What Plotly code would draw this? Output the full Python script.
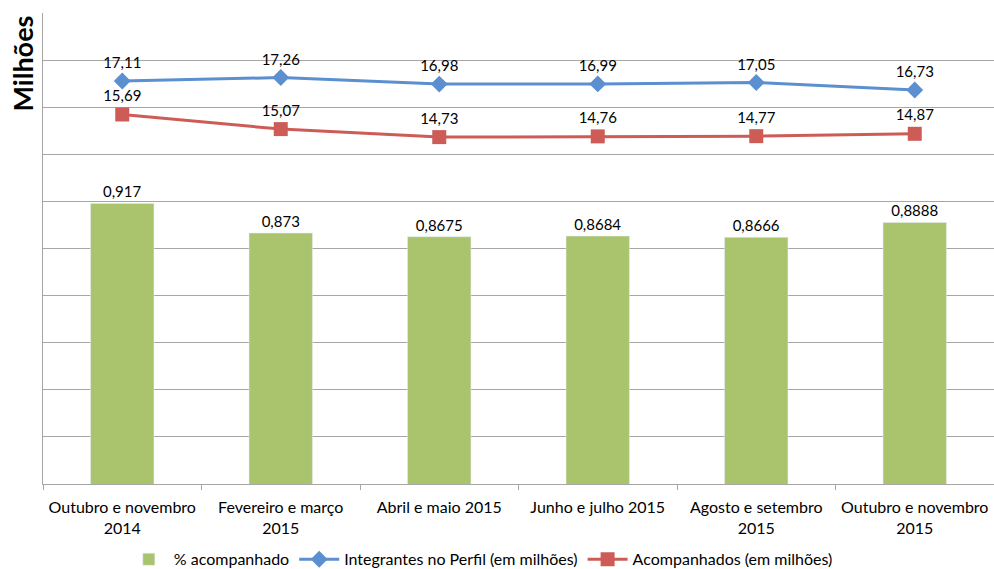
import plotly.graph_objects as go

categories = ["Outubro e novembro<br>2014", "Fevereiro e março<br>2015", "Abril e maio 2015",
              "Junho e julho 2015", "Agosto e setembro<br>2015", "Outubro e novembro<br>2015"]
pct_acompanhado = [0.917, 0.873, 0.8675, 0.8684, 0.8666, 0.8888]
integrantes = [17.11, 17.26, 16.98, 16.99, 17.05, 16.73]
acompanhados = [15.69, 15.07, 14.73, 14.76, 14.77, 14.87]

def fmt(v):
    return str(v).replace(".", ",")

FONT = "Lato"
fig = go.Figure()
fig.add_trace(go.Bar(
    x=categories, y=pct_acompanhado, name="% acompanhado",
    marker=dict(color="#a9c46c"),
    text=[fmt(v) for v in pct_acompanhado], textposition="outside",
    textfont=dict(size=15, color="#000000", family=FONT),
    cliponaxis=False, yaxis="y",
))
fig.add_trace(go.Scatter(
    x=categories, y=integrantes, name="Integrantes no Perfil (em milhões)",
    mode="lines+markers+text",
    line=dict(color="#5b8fcf", width=3),
    marker=dict(symbol="diamond", size=13, color="#5b8fcf"),
    text=[fmt(v) for v in integrantes], textposition="top center",
    textfont=dict(size=15, color="#000000", family=FONT),
    cliponaxis=False, yaxis="y2",
))
fig.add_trace(go.Scatter(
    x=categories, y=acompanhados, name="Acompanhados (em milhões)",
    mode="lines+markers+text",
    line=dict(color="#cd5c57", width=3),
    marker=dict(symbol="square", size=14, color="#cd5c57"),
    text=[fmt(v) for v in acompanhados], textposition="top center",
    textfont=dict(size=15, color="#000000", family=FONT),
    cliponaxis=False, yaxis="y2",
))

fig.update_layout(
    width=994, height=569,
    margin=dict(l=43, r=0, t=13, b=85, autoexpand=False),
    paper_bgcolor="white", plot_bgcolor="white",
    font=dict(family=FONT, size=16, color="#000000"),
    bargap=0.6,
    showlegend=True,
    legend=dict(orientation="h", x=0.085, xanchor="left", y=-0.196, yanchor="bottom",
                font=dict(size=16, family=FONT), traceorder="normal",
                itemwidth=40, tracegroupgap=0),
    xaxis=dict(type="category", showgrid=False, showline=True, linecolor="#a6a6a6", linewidth=1,
               ticks="outside", tickson="boundaries", ticklen=5, tickcolor="#a6a6a6",
               tickfont=dict(size=16, family=FONT), automargin=False, ticklabelstandoff=9),
    yaxis=dict(range=[0.5, 1.2], showgrid=False, showticklabels=False, showline=True,
               linecolor="#a6a6a6", linewidth=1, zeroline=False, ticks="", automargin=False),
    yaxis2=dict(range=[0, 20], dtick=2, overlaying="y", side="left", showgrid=True,
                gridcolor="#a6a6a6", gridwidth=1, showticklabels=False, zeroline=False,
                showline=False, ticks="", automargin=False),
    annotations=[dict(text="<b>Milhões</b>", textangle=-90, x=0, xref="paper", xanchor="right",
                      xshift=-3, y=1, yref="paper", yanchor="top", yshift=0, showarrow=False,
                      font=dict(size=27, family=FONT, color="#000000"))],
)
fig.write_html("out.html", config={"displayModeBar": False},
               post_script="document.body.style.margin='0';document.body.style.overflow='hidden';")
